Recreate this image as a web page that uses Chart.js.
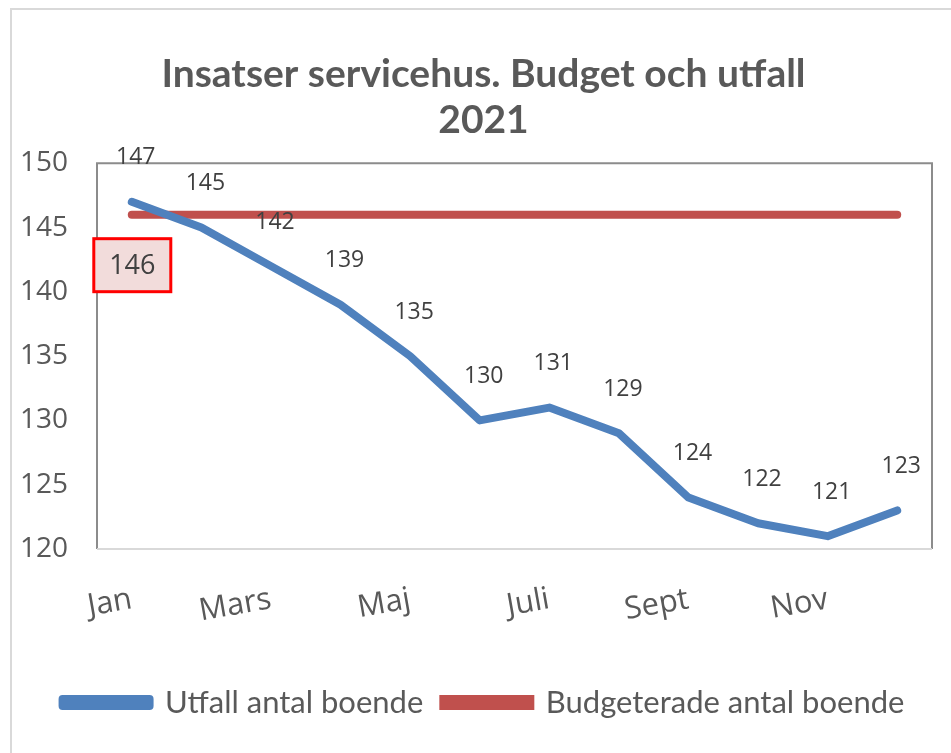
<!DOCTYPE html>
<html>
<head>
<meta charset="utf-8">
<script src="https://cdn.jsdelivr.net/npm/chart.js@4"></script>
<style>
  html, body { margin: 0; padding: 0; background: #fff; }
  body { width: 951px; height: 753px; position: relative; overflow: hidden; }
  .frame { position: absolute; left: 10px; top: 8px; width: 960px; height: 760px;
           border: 2px solid #d9d9d9; box-sizing: border-box; }
  .wrap { position: absolute; left: 0; top: 0; width: 951px; height: 753px; }
</style>
</head>
<body>
<div class="frame"></div>
<div class="wrap"><canvas id="chart"></canvas></div>
<script>
var months = ["Jan", "Feb", "Mars", "April", "Maj", "Juni", "Juli", "Aug", "Sept", "Okt", "Nov", "Dec"];
var utfall = [147, 145, 142, 139, 135, 130, 131, 129, 124, 122, 121, 123];
var budget = [146, 146, 146, 146, 146, 146, 146, 146, 146, 146, 146, 146];
var yTicks = [120, 125, 130, 135, 140, 145, 150];

var blue = "#4f81bd";
var red = "#c0504d";
var textGray = "#595959";

// border round the plot area: dark on three sides, light along the bottom
var plotFrame = {
    id: "plotFrame",
    beforeDatasetsDraw: function (chart) {
        var a = chart.chartArea, ctx = chart.ctx;
        ctx.save();
        ctx.lineWidth = 2;
        ctx.strokeStyle = "#8c8c8c";
        ctx.beginPath();
        ctx.moveTo(a.left, a.bottom);
        ctx.lineTo(a.left, a.top);
        ctx.lineTo(a.right, a.top);
        ctx.lineTo(a.right, a.bottom);
        ctx.stroke();
        ctx.strokeStyle = "#d9d9d9";
        ctx.beginPath();
        ctx.moveTo(a.left, a.bottom);
        ctx.lineTo(a.right, a.bottom);
        ctx.stroke();
        ctx.restore();
    }
};

// value labels above the blue line, boxed label under the first budget point
var valueLabels = {
    id: "valueLabels",
    afterDatasetsDraw: function (chart) {
        var ctx = chart.ctx;
        ctx.save();
        ctx.font = "23px 'Open Sans'";
        ctx.fillStyle = "#404040";
        ctx.textAlign = "center";
        ctx.textBaseline = "middle";
        chart.getDatasetMeta(0).data.forEach(function (pt, i) {
            ctx.fillText(utfall[i], pt.x + 4, pt.y - 44);
        });

        var p = chart.getDatasetMeta(1).data[0];
        var bx = p.x - 38, by = p.y + 24, bw = 77, bh = 53;
        ctx.fillStyle = "#f2dcdb";
        ctx.fillRect(bx, by, bw, bh);
        ctx.lineWidth = 3;
        ctx.strokeStyle = "#ff0000";
        ctx.strokeRect(bx, by, bw, bh);
        ctx.font = "27px 'Open Sans'";
        ctx.fillStyle = "#404040";
        ctx.fillText(budget[0], bx + bw / 2, by + bh / 2 + 1);
        ctx.restore();
    }
};

new Chart("chart", {
    type: "line",
    data: {
        labels: months,
        datasets: [{
            label: "Utfall antal boende",
            data: utfall,
            borderColor: blue,
            backgroundColor: blue,
            borderWidth: 8,
            borderCapStyle: "round",
            borderJoinStyle: "round",
            pointRadius: 0,
            tension: 0
        }, {
            label: "Budgeterade antal boende",
            data: budget,
            borderColor: red,
            backgroundColor: red,
            borderWidth: 8,
            borderCapStyle: "round",
            pointRadius: 0,
            tension: 0
        }]
    },
    options: {
        responsive: true,
        maintainAspectRatio: false,
        animation: false,
        layout: {
            padding: { top: 52, left: 16, right: 0, bottom: 25 }
        },
        scales: {
            x: {
                offset: true,
                // invisible tick marks push the month names down from the axis
                grid: { display: true, color: "rgba(0,0,0,0)", drawOnChartArea: false, drawTicks: true, tickLength: 32 },
                border: { display: false },
                afterFit: function (axis) {
                    axis.height = 118;
                    axis.paddingLeft = 0;
                    axis.paddingRight = 0;
                },
                ticks: {
                    autoSkip: false,
                    minRotation: 10,
                    maxRotation: 10,
                    padding: 0,
                    color: textGray,
                    font: { family: "'Open Sans'", size: 31 },
                    callback: function (v, i) { return i % 2 === 0 ? months[i] : ""; }
                }
            },
            y: {
                min: 120,
                max: 150,
                afterBuildTicks: function (axis) {
                    axis.ticks = yTicks.map(function (v) { return { value: v }; });
                },
                afterFit: function (axis) { axis.width = 81; },
                grid: { display: false, drawTicks: false },
                border: { display: false },
                ticks: {
                    padding: 29,
                    color: textGray,
                    font: { family: "'Open Sans'", size: 28 }
                }
            },
            // empty strip on the right so the plot ends short of the frame
            right: {
                position: "right",
                grid: { display: false, drawTicks: false },
                border: { display: false },
                ticks: { display: false },
                afterFit: function (axis) { axis.width = 19; }
            }
        },
        plugins: {
            title: {
                display: true,
                text: ["Insatser servicehus. Budget och utfall", "2021"],
                color: textGray,
                font: { family: "Lato", size: 39, weight: "bold", lineHeight: 1.17 },
                padding: { top: 0, bottom: 20 }
            },
            legend: {
                position: "bottom",
                labels: {
                    boxWidth: 87,
                    boxHeight: 7,
                    padding: 20,
                    color: textGray,
                    font: { family: "Lato", size: 31 }
                }
            },
            tooltip: { enabled: false }
        }
    },
    plugins: [plotFrame, valueLabels]
});
</script>
</body>
</html>
